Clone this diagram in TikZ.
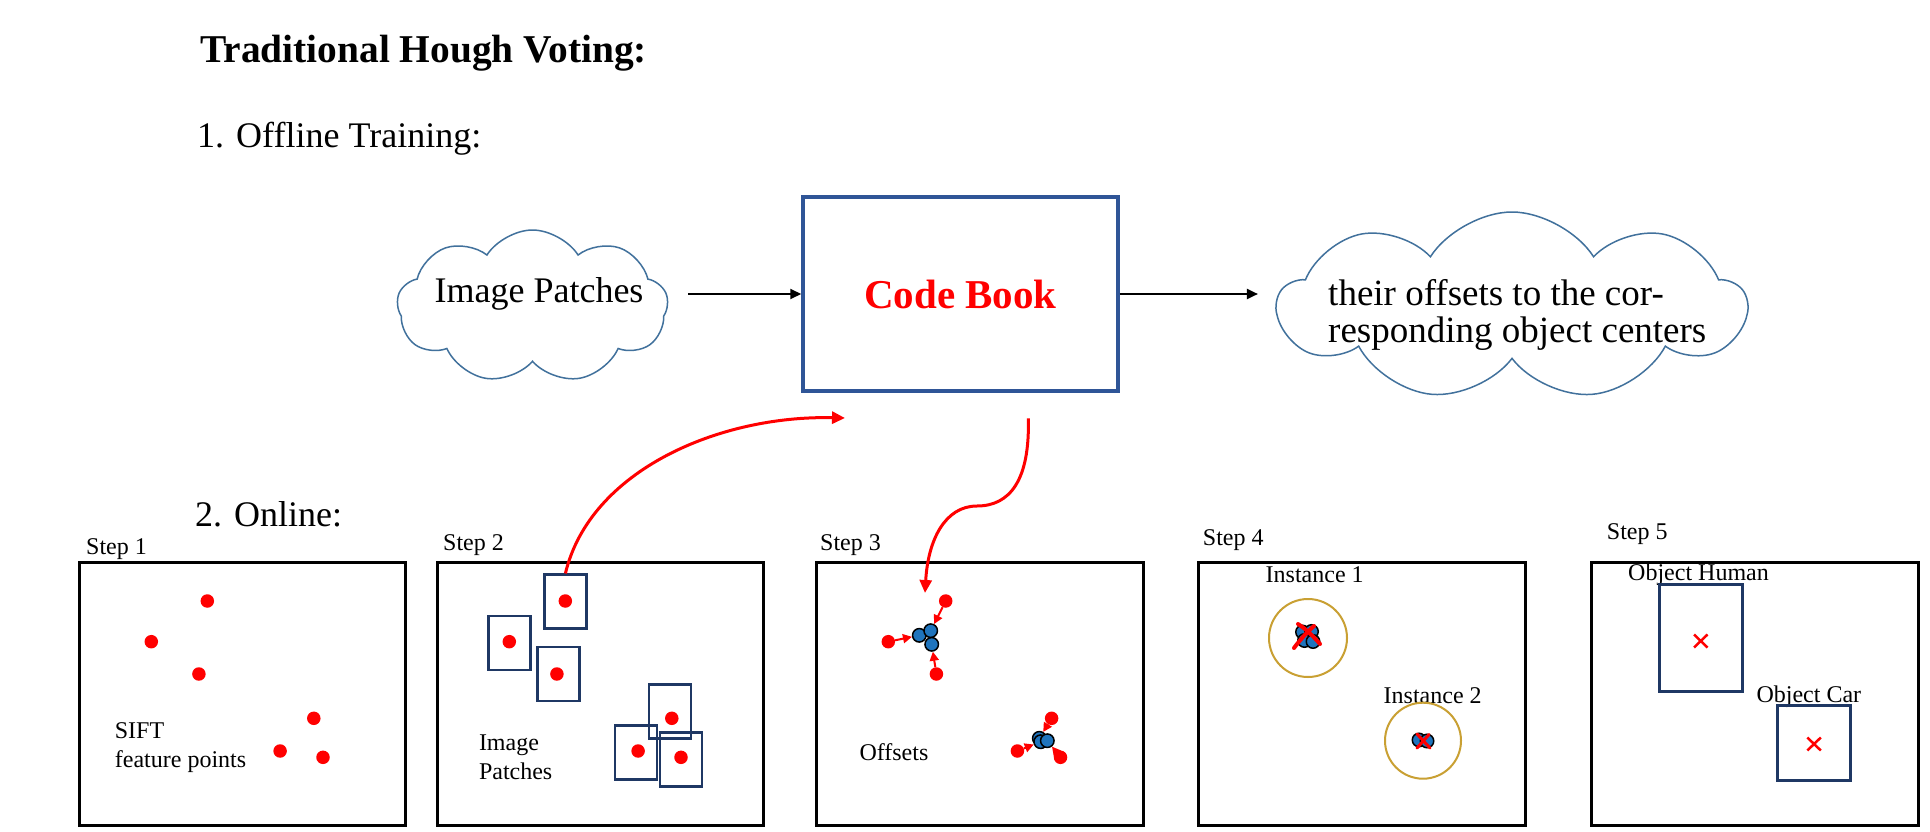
\documentclass[tikz,border=0pt]{standalone}
\usepackage{fontspec}
\setmainfont{Liberation Serif}
\usetikzlibrary{shapes.symbols,arrows.meta}
\definecolor{navy}{HTML}{1F3864}
\definecolor{boxblue}{HTML}{2F5597}
\definecolor{cloudblue}{HTML}{41719C}
\definecolor{dotblue}{HTML}{1F74BD}
\definecolor{gold}{HTML}{C9A033}
\begin{document}
\begin{tikzpicture}[x=1pt,y=-1pt,
  txt/.style={inner sep=0pt, anchor=base west, font=\fontsize{24}{29}\selectfont},
  head/.style={inner sep=0pt, anchor=base west, font=\fontsize{36}{43}\selectfont},
  panel/.style={draw=black, line width=3pt, minimum width=326.5pt, minimum height=262.5pt, anchor=north west, inner sep=0pt},
  patch/.style={draw=navy, line width=2.5pt, minimum width=42pt, minimum height=54pt, inner sep=0pt},
  rdot/.style={circle, fill=red, inner sep=0pt, minimum size=13.5pt},
  bdot/.style={circle, fill=dotblue, draw=black, line width=1.5pt, inner sep=0pt, minimum size=13.5pt},
  cloudshape/.style={cloud, cloud puffs=9, cloud puff arc=115, aspect=1.8, draw=cloudblue, line width=1.5pt, inner sep=0pt},
  flow/.style={-{Triangle[length=11pt,width=10pt]}, line width=2pt, black},
  redcurve/.style={red, line width=3pt, -{Triangle[length=13pt,width=12pt]}},
  offset/.style={red, line width=2pt, -{Triangle[length=9pt,width=9pt]}},
  circ/.style={circle, draw=gold, line width=2pt, inner sep=0pt},
  xstroke/.style={red, line width=4pt, line cap=round},
  xmark/.style={red, line width=2.5pt},
  objbox/.style={draw=navy, line width=3pt, inner sep=0pt}
]
\useasboundingbox (0,0) rectangle (1930,832);
\fill[white] (0,0) rectangle (1930,832);

% headings
\node[inner sep=0pt, anchor=base west, font=\fontsize{39.4}{47}\selectfont\bfseries] (title) at (200,63) {Traditional Hough Voting:};
\node[head] (off) at (197,148) {1. Offline Training:};
\node[head] (on) at (195,526) {2. Online:};

% offline training
\node[cloudshape, minimum width=271pt, minimum height=153pt] (c1) at (532.5,306.5) {};
\node[inner sep=0pt, font=\fontsize{36}{43}\selectfont] (c1t) at (539,294) {Image Patches};
\node[draw=boxblue, line width=3.5pt, minimum width=315pt, minimum height=194pt, inner sep=0pt,
      text=red, font=\fontsize{41}{49}\selectfont\bfseries] (cb) at (960.5,294) {Code Book};
\node[cloudshape, minimum width=468pt, minimum height=188pt] (c2) at (1512,306) {};
\node[inner sep=0pt, anchor=base west, align=left, font=\fontsize{37}{37}\selectfont] (c2t) at (1328,305)
  {\begin{tabular}[t]{@{}l@{}}their offsets to the cor-\\responding object centers\end{tabular}};
\draw[flow, shorten <=20pt] (c1.east |- cb.west) -- (cb.west);
\draw[flow, shorten >=17pt] (cb.east) -- (cb.east -| c2.west);

% panels
\node[panel] (p1) at (77.7,561) {};
\node[panel] (p2) at (435.8,561) {};
\node[panel] (p3) at (815,561) {};
\node[panel] (p4) at (1197,561) {};
\node[panel] (p5) at (1590.2,561) {};
\node[txt] (s1) at (86,554) {Step 1};
\node[txt] (s2) at (443,550.7) {Step 2};
\node[txt] (s3) at (820,550) {Step 3};
\node[txt] (s4) at (1202.7,545) {Step 4};
\node[txt] (s5) at (1606.7,539.5) {Step 5};

% step 1
\node[rdot] (d11) at (207.3,601) {};
\node[rdot] (d12) at (151.3,641.7) {};
\node[rdot] (d13) at (198.9,674) {};
\node[rdot] (d14) at (313.8,718.3) {};
\node[rdot] (d15) at (280.1,751) {};
\node[rdot] (d16) at (323,757.3) {};
\node[txt] (sift) at (114.7,738) {\begin{tabular}[t]{@{}l@{}}SIFT\\feature points\end{tabular}};

% step 2
\node[patch] (pa) at (565.4,601.7) {};
\node[patch] (pb) at (509.3,642.8) {};
\node[patch] (pc) at (558.3,673.8) {};
\node[patch] (pd) at (670.1,711.6) {};
\node[patch] (pe) at (635.8,752.3) {};
\node[patch] (pf) at (681.2,759.3) {};
\node[rdot] (d21) at (565.3,601) {};
\node[rdot] (d22) at (509.3,641.7) {};
\node[rdot] (d23) at (556.9,674) {};
\node[rdot] (d24) at (671.8,718.3) {};
\node[rdot] (d25) at (638.1,751) {};
\node[rdot] (d26) at (681,757.3) {};
\node[txt] (ip) at (478.8,750) {\begin{tabular}[t]{@{}l@{}}Image\\Patches\end{tabular}};

% step 3
\node[rdot] (d31) at (945.7,601) {};
\node[rdot] (d32) at (888.3,641.7) {};
\node[rdot] (d33) at (936.4,674) {};
\node[rdot] (d34) at (1051.6,718.3) {};
\node[rdot] (d35) at (1017.4,751) {};
\node[rdot] (d36) at (1060.5,757.3) {};
\node[bdot] (b31) at (919.3,635.3) {};
\node[bdot] (b32) at (930.7,630.7) {};
\node[bdot] (b33) at (931.7,644.3) {};
\node[bdot] (b34) at (1039.3,738.3) {};
\node[bdot] (b35) at (1040.7,741.7) {};
\node[bdot] (b36) at (1047.3,740.7) {};
\draw[offset] (d31) -- (b32);
\draw[offset] (d32) -- (b31);
\draw[offset] (d33) -- (b33);
\draw[offset] (d34) -- (b34);
\draw[offset] (d35) -- (b35);
\draw[offset] (d36) -- (b36);
\node[txt] (offs) at (859.3,760) {Offsets};

% step 4
\node[txt] (i1) at (1265.5,582.7) {Instance 1};
\node[txt] (i2) at (1383.5,703.3) {Instance 2};
\node[circ, minimum size=78pt] (k1) at (1308,638) {};
\node[circ, minimum size=76pt] (k2) at (1423,740.7) {};
\node[bdot] (b41) at (1302.5,632) {};
\node[bdot] (b42) at (1311.5,631.5) {};
\node[bdot] (b43) at (1304.5,640.5) {};
\node[bdot] (b44) at (1313,641.5) {};
\draw[xstroke] (1298,624) .. controls (1306,629) and (1314,637) .. (1320,644);
\draw[xstroke] (1314,626) .. controls (1306,633) and (1300,640) .. (1294,648);
\node[bdot] (b45) at (1419,740) {};
\node[bdot] (b46) at (1427,741) {};
\draw[xstroke, line width=3pt] (1417,734) -- (1430,748);
\draw[xstroke, line width=3pt] (1429,734.5) -- (1417,748);

% step 5
\node[txt] (oh) at (1628,580) {Object Human};
\node[objbox, minimum width=82.6pt, minimum height=106.7pt] (hb) at (1701,637.7) {};
\draw[xmark] (1694,634.5) -- (1707.5,647.5) (1707.5,634.5) -- (1694,647.5);
\node[txt] (oc) at (1756.3,702.7) {Object Car};
\node[objbox, minimum width=73.2pt, minimum height=75pt] (cbx) at (1814.1,742.5) {};
\draw[xmark] (1807.3,737.5) -- (1820.8,750.5) (1820.8,737.5) -- (1807.3,750.5);

% red curved connectors
\coordinate (cbin) at (845,418);
\coordinate (cbout) at (1028.3,418.3);
\coordinate (s3in) at (925,593);
\draw[redcurve] (pa.north) .. controls (590,470) and (720,415) .. (cbin);
\draw[redcurve] (cbout) .. controls (1030,480) and (1010,506) .. (977,506)
                 .. controls (945,506) and (928,540) .. (s3in);
\end{tikzpicture}
\end{document}
